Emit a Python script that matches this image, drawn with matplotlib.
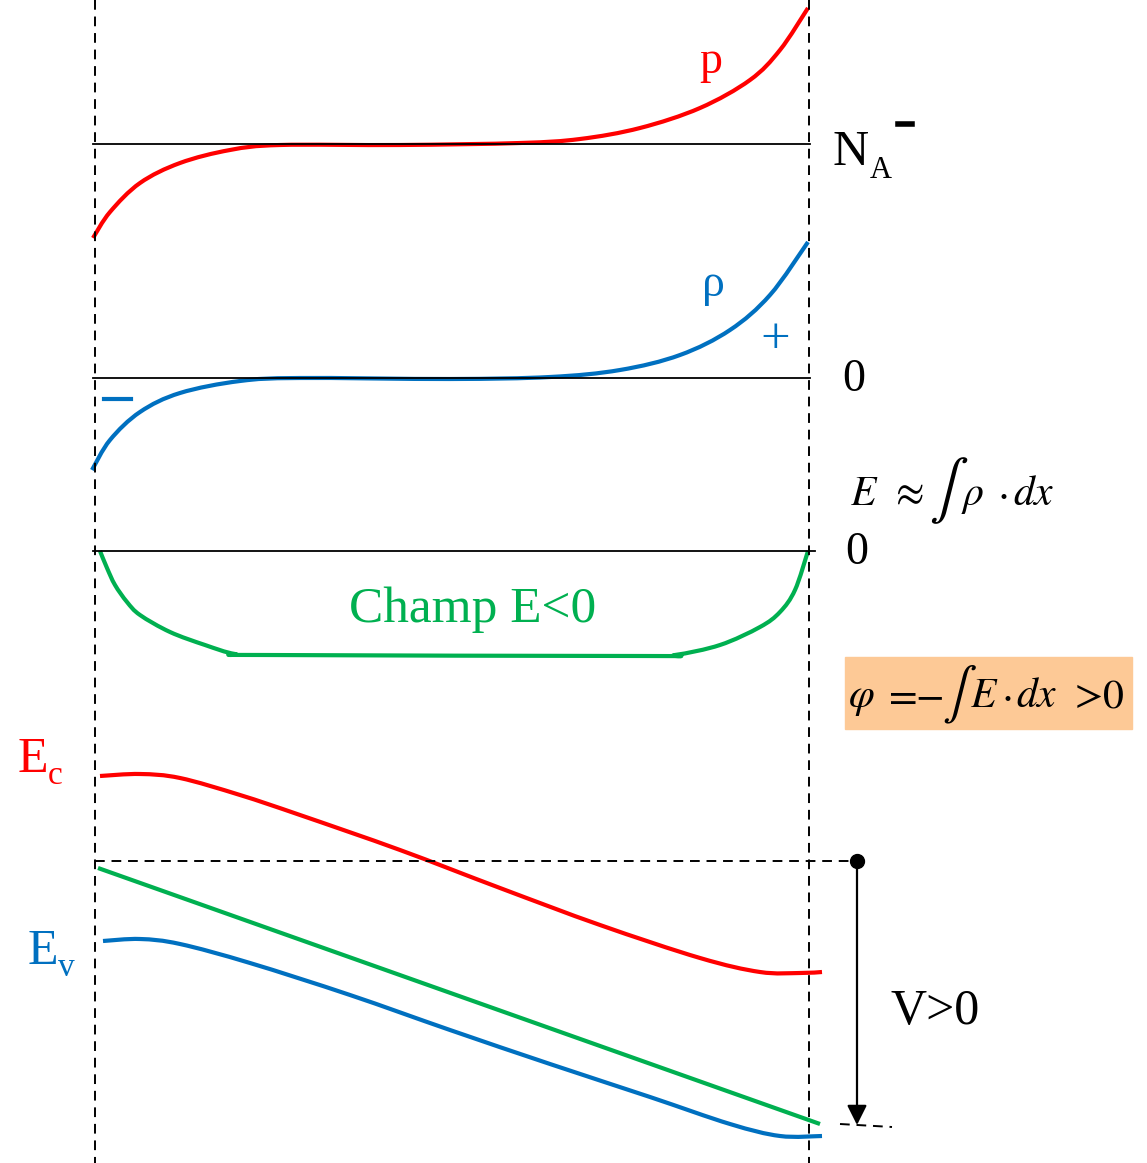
import matplotlib

matplotlib.use("Agg")
import matplotlib.pyplot as plt
from matplotlib.patches import PathPatch, Rectangle
from matplotlib.path import Path

plt.rcParams["font.family"] = ["Liberation Serif", "DejaVu Serif"]
plt.rcParams["mathtext.fontset"] = "stix"

RED = "#ff0000"
BLUE = "#0070c0"
GREEN = "#00b050"

# curves, in pixel coordinates (x, y down)
p_x = [93, 110, 140, 180, 230, 280, 400, 520, 580, 640, 700, 750, 780, 808]
p_y = [238, 212, 183, 163, 150, 145, 145, 143, 139, 128, 108, 80, 50, 8]

rho_x = [92, 110, 140, 180, 240, 300, 450, 550, 620, 680, 730, 770, 808]
rho_y = [470, 440, 412, 393, 381, 378, 379, 377, 370, 355, 330, 295, 242]

field_x = [100, 107, 115, 127, 140, 170, 205, 235, 265, 645, 675, 720, 760, 780, 795, 808]
field_y = [551, 568, 585, 602, 615, 632, 645, 654, 655, 656, 655, 645, 627, 612, 590, 551]

ec_x = [100, 140, 180, 240, 300, 400, 500, 600, 700, 760, 800, 822]
ec_y = [776, 774, 778, 795, 815, 850, 888, 925, 958, 972, 973, 972]

ev_x = [103, 140, 180, 250, 350, 450, 550, 650, 730, 780, 822]
ev_y = [941, 939, 944, 963, 995, 1030, 1064, 1097, 1124, 1136, 1136]

fermi_x = [98, 820]
fermi_y = [868, 1124]

ref_lines_y = [144, 378, 551]
ref_lines_xend = [810, 810, 815]


def smooth_path(xs, ys):
    # Catmull-Rom through the traced points, as cubic Bezier segments
    pts = list(zip(xs, ys))
    verts = [pts[0]]
    codes = [Path.MOVETO]
    for i in range(len(pts) - 1):
        p0 = pts[i - 1] if i > 0 else pts[i]
        p1 = pts[i]
        p2 = pts[i + 1]
        p3 = pts[i + 2] if i + 2 < len(pts) else pts[i + 1]
        c1 = (p1[0] + (p2[0] - p0[0]) / 6, p1[1] + (p2[1] - p0[1]) / 6)
        c2 = (p2[0] - (p3[0] - p1[0]) / 6, p2[1] - (p3[1] - p1[1]) / 6)
        verts += [c1, c2, p2]
        codes += [Path.CURVE4] * 3
    return Path(verts, codes)


def curve(ax, xs, ys, color):
    ax.add_patch(PathPatch(smooth_path(xs, ys), fill=False, edgecolor=color,
                           lw=3.0, capstyle="butt", joinstyle="round"))


fig = plt.figure(figsize=(11.47, 11.63), dpi=100)
ax = fig.add_axes([0, 0, 1, 1])
ax.set_xlim(0, 1147)
ax.set_ylim(1163, 0)
ax.axis("off")

dash = (0, (5, 3.5))
for xv in (95, 809):
    ax.plot([xv, xv], [0, 1163], color="black", lw=1.4, ls=dash)

for yv, xe in zip(ref_lines_y, ref_lines_xend):
    ax.plot([93, xe], [yv, yv], color="black", lw=1.3)

curve(ax, p_x, p_y, RED)
curve(ax, rho_x, rho_y, BLUE)
curve(ax, field_x, field_y, GREEN)
curve(ax, ec_x, ec_y, RED)
curve(ax, ev_x, ev_y, BLUE)
ax.plot(fermi_x, fermi_y, color=GREEN, lw=3.0, solid_capstyle="butt")

# voltage arrow
ax.plot([95, 857], [861, 861], color="black", lw=1.4, ls=dash)
ax.plot([840, 892], [1124, 1127], color="black", lw=1.4, ls=dash)
ax.plot([857], [861], "o", color="black", ms=10)
ax.annotate("", xy=(857, 1125), xytext=(857, 861),
            arrowprops=dict(arrowstyle="-|>", color="black", lw=1.6,
                            mutation_scale=30, shrinkA=0, shrinkB=0))

# labels
ax.text(711, 62, "p", color=RED, fontsize=33, ha="center", va="center")
ax.text(833, 153, "N", color="black", fontsize=36, ha="left", va="center")
ax.text(870, 170, "A", color="black", fontsize=22, ha="left", va="center")
ax.plot([898, 912], [124, 124], color="black", lw=4)
ax.text(713, 285, "ρ", color=BLUE, fontsize=33, ha="center", va="center")
ax.text(775, 340, "+", color=BLUE, fontsize=38, ha="center", va="center")
ax.plot([104, 131], [399, 399], color=BLUE, lw=3)
ax.text(854, 380, "0", color="black", fontsize=33, ha="center", va="center")
ax.text(857, 553, "0", color="black", fontsize=33, ha="center", va="center")
ax.text(473, 610, "Champ E<0", color=GREEN, fontsize=37, ha="center", va="center")


def formula(parts, base, int_x, int_y, int_size):
    for x, s in parts:
        ax.text(x, base, s, color="black", fontsize=30, ha="left",
                va="baseline", zorder=3)
    ax.text(int_x, int_y, "\u222b", color="black", fontsize=int_size,
            family="STIXGeneral", ha="left", va="center", zorder=3)


# E ~ integral rho dx
formula([(850, r"$E$"), (889, r"$\approx$"), (961, r"$\rho$"),
         (997, r"$\cdot$"), (1013, r"$dx$")], 505, 929, 491, 42)

ax.add_patch(Rectangle((845, 657), 287, 72, color="#fdc996", zorder=1))
formula([(848, r"$\varphi$"), (882, r"$=$"), (915, r"$-$"), (970, r"$E$"),
         (1001, r"$\cdot$"), (1016, r"$dx$"), (1068, r"$>$"), (1102, r"$0$")],
        707, 942, 694, 37)

ax.text(18, 760, "E", color=RED, fontsize=36, ha="left", va="center")
ax.text(48, 776, "c", color=RED, fontsize=24, ha="left", va="center")
ax.text(28, 952, "E", color=BLUE, fontsize=36, ha="left", va="center")
ax.text(58, 968, "v", color=BLUE, fontsize=24, ha="left", va="center")
ax.text(935, 1012, "V>0", color="black", fontsize=36, ha="center", va="center")

fig.savefig("out.png", dpi=100)
